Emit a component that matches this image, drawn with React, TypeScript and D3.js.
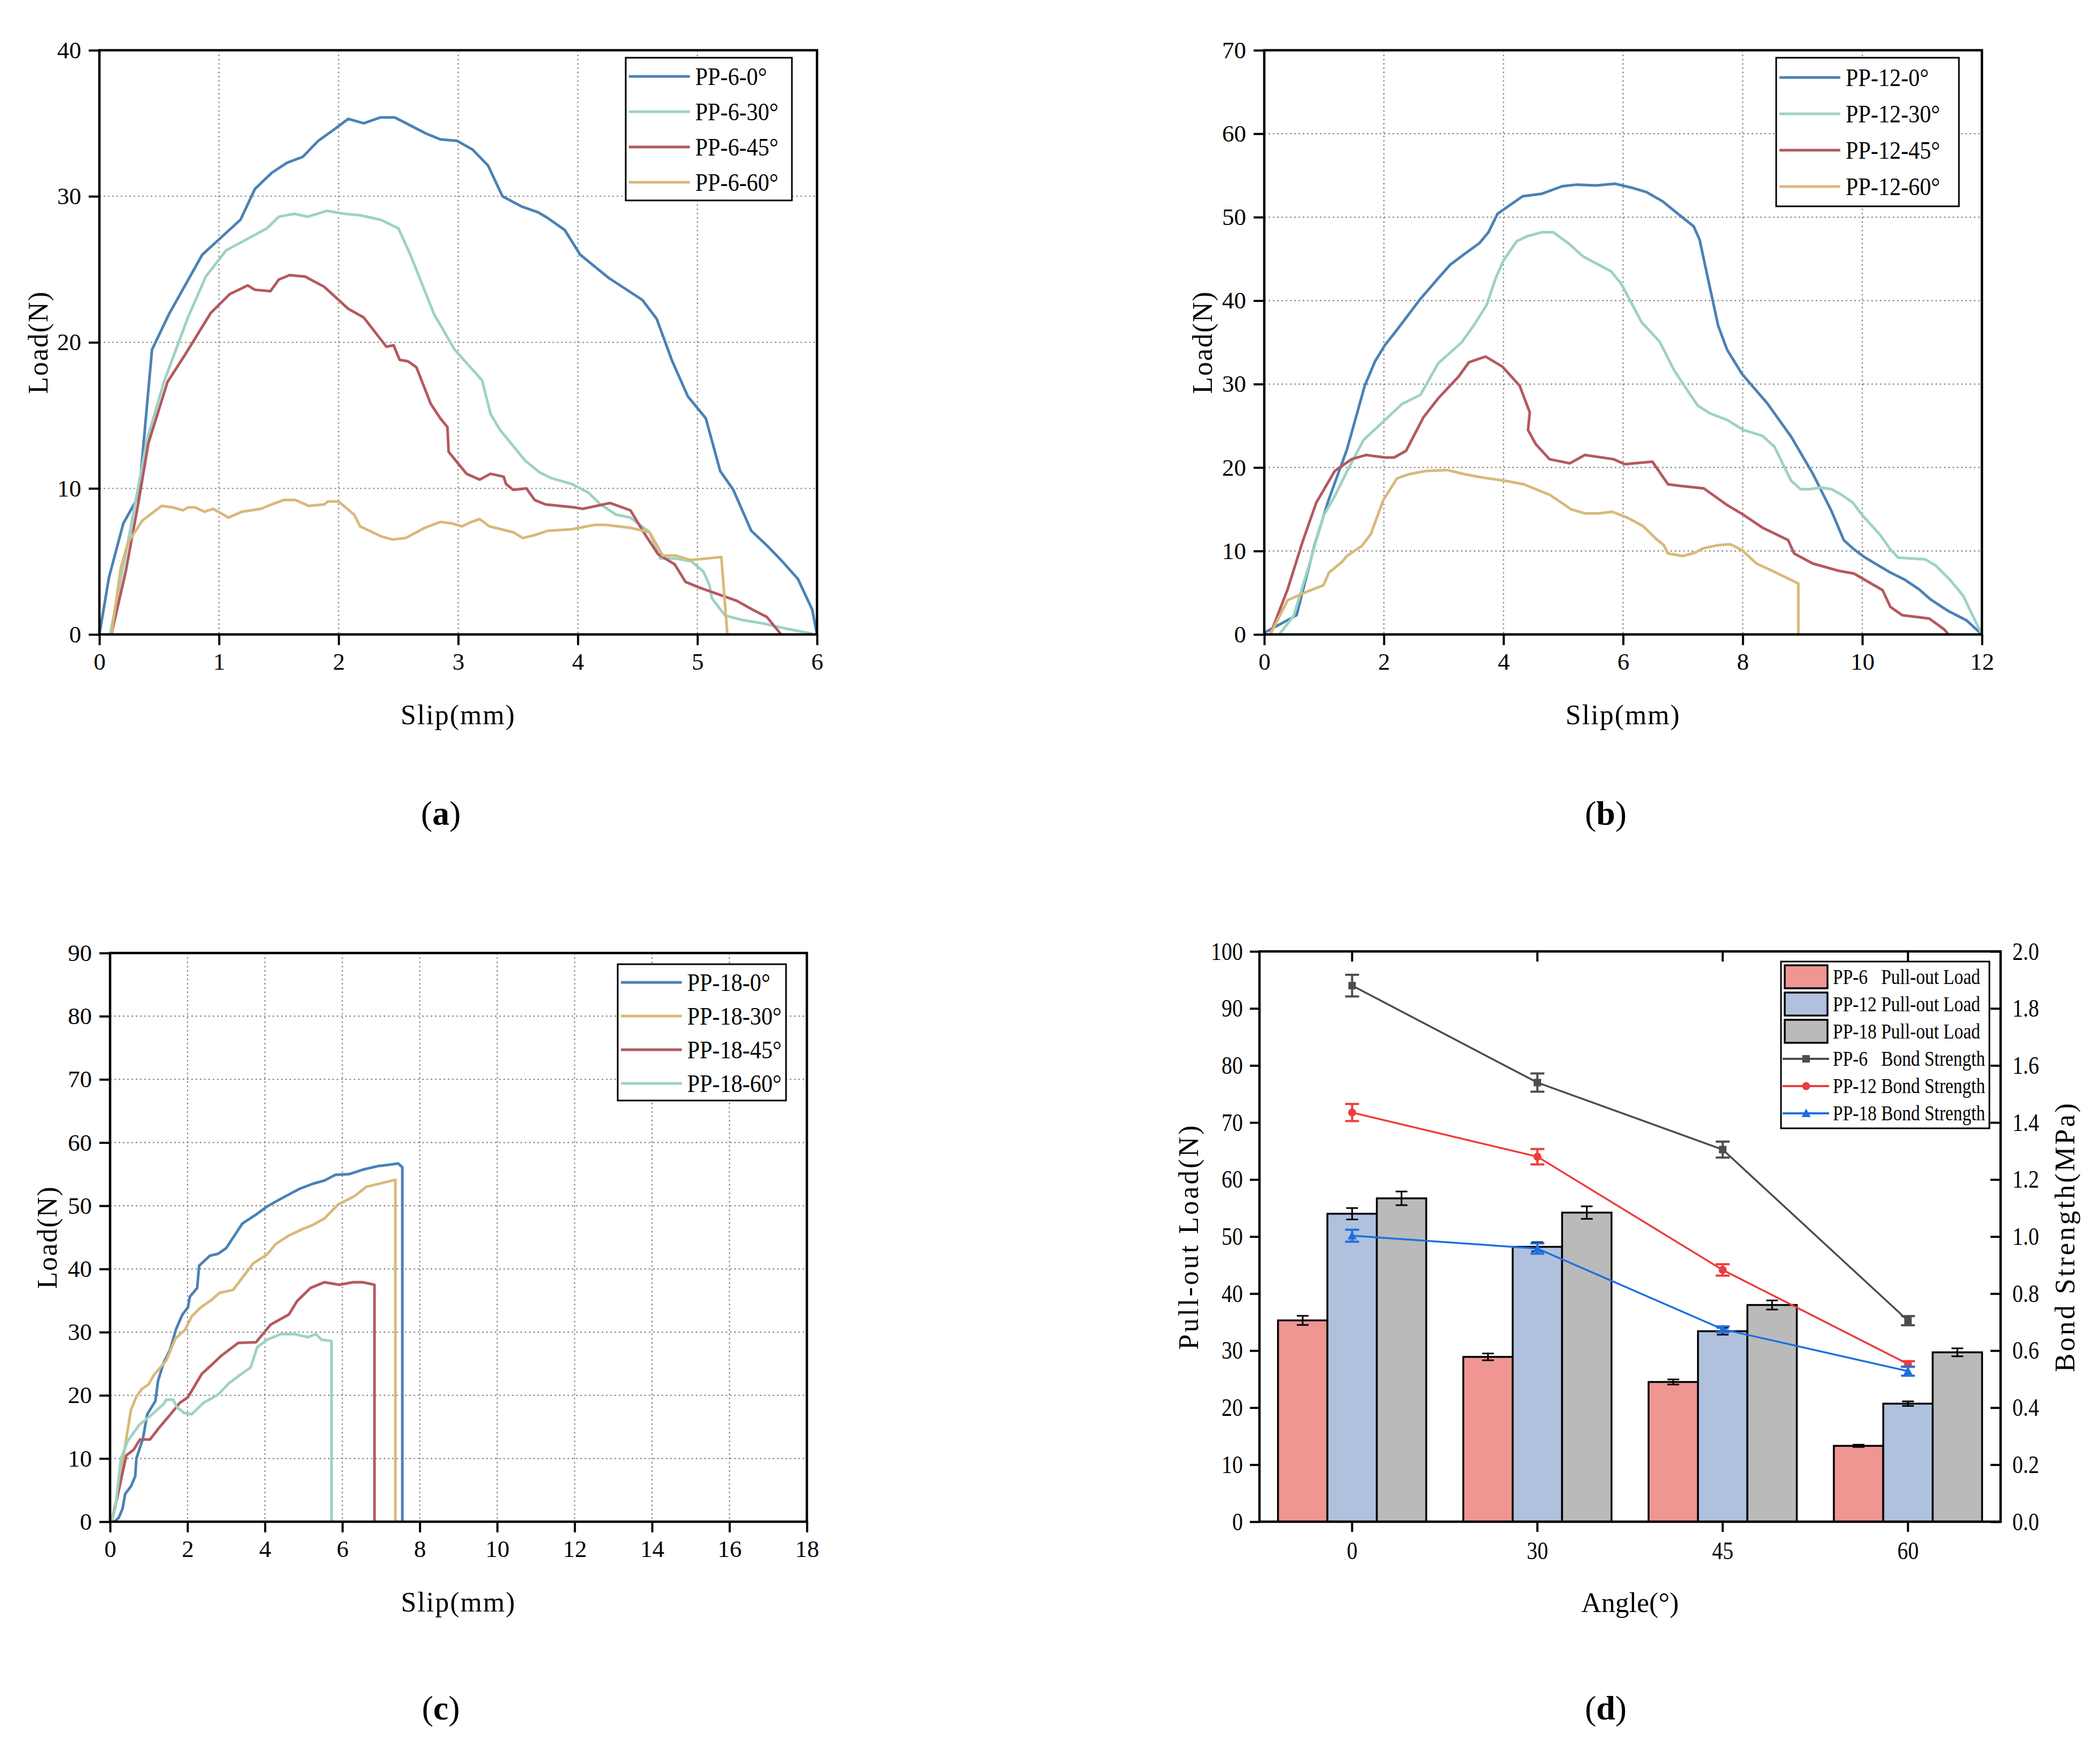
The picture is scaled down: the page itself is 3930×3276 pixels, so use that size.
import { useEffect, useRef } from 'react';
import * as d3 from 'd3';

type Pt = [number, number];

const W = 3930;
const H = 3276;
const FONT = '"Liberation Serif", "Times New Roman", serif';

const BLUE = '#4A82B4';
const TEAL = '#9DD2C3';
const RED = '#B4595F';
const TAN = '#D8B97B';

// ---- panel (a): PP-6 load-slip curves ----
const PP6_0: Pt[] = [
  [0, 0], [0.08, 3.9], [0.2, 7.6], [0.33, 9.5], [0.44, 19.5], [0.58, 21.9], [0.86, 26.0], [1.18, 28.4],
  [1.3, 30.5], [1.44, 31.6], [1.57, 32.3], [1.7, 32.7], [1.83, 33.8], [1.95, 34.5], [2.08, 35.3], [2.21, 35.0],
  [2.35, 35.4], [2.47, 35.4], [2.73, 34.3], [2.85, 33.9], [2.99, 33.8], [3.12, 33.2], [3.25, 32.1], [3.37, 30.0],
  [3.53, 29.3], [3.67, 28.9], [3.75, 28.5], [3.89, 27.7], [4.02, 26.0], [4.14, 25.2], [4.26, 24.4], [4.54, 22.9],
  [4.66, 21.6], [4.79, 18.7], [4.92, 16.3], [5.07, 14.8], [5.19, 11.2], [5.3, 9.9], [5.45, 7.1], [5.58, 6.1],
  [5.71, 5.0], [5.84, 3.8], [5.96, 1.7], [6.0, 0],
];
const PP6_30: Pt[] = [
  [0.09, 0], [0.22, 5.5], [0.4, 13.4], [0.54, 17.3], [0.74, 21.7], [0.89, 24.5], [1.06, 26.3], [1.4, 27.8],
  [1.5, 28.6], [1.63, 28.8], [1.74, 28.6], [1.9, 29.0], [2.05, 28.8], [2.18, 28.7], [2.35, 28.4], [2.5, 27.8],
  [2.6, 26.0], [2.8, 21.9], [2.97, 19.5], [3.2, 17.4], [3.27, 15.1], [3.35, 14.0], [3.56, 11.9], [3.68, 11.1],
  [3.78, 10.7], [3.95, 10.3], [4.09, 9.7], [4.19, 8.9], [4.32, 8.2], [4.44, 8.0], [4.6, 7.0], [4.69, 5.2],
  [4.82, 5.2], [4.95, 5.0], [5.05, 4.3], [5.1, 3.4], [5.12, 2.5], [5.23, 1.3], [5.37, 1.0], [5.55, 0.75],
  [5.74, 0.4], [5.96, 0.05],
];
const PP6_45: Pt[] = [
  [0.1, 0], [0.22, 4.3], [0.33, 9.2], [0.41, 13.1], [0.57, 17.3], [0.72, 19.2], [0.93, 22.0], [1.09, 23.3],
  [1.24, 23.9], [1.3, 23.6], [1.43, 23.5], [1.5, 24.3], [1.59, 24.6], [1.72, 24.5], [1.88, 23.8], [2.08, 22.3],
  [2.21, 21.7], [2.4, 19.7], [2.46, 19.8], [2.51, 18.8], [2.58, 18.7], [2.65, 18.3], [2.77, 15.8], [2.85, 14.8],
  [2.91, 14.2], [2.92, 12.5], [3.07, 11.0], [3.18, 10.6], [3.27, 11.0], [3.38, 10.8], [3.4, 10.3], [3.46, 9.9],
  [3.57, 10.0], [3.64, 9.2], [3.73, 8.9], [3.97, 8.7], [4.04, 8.6], [4.27, 9.0], [4.44, 8.5], [4.55, 7.0],
  [4.67, 5.5], [4.81, 4.8], [4.9, 3.6], [5.02, 3.2], [5.33, 2.3], [5.46, 1.7], [5.58, 1.2], [5.7, 0],
];
const PP6_60: Pt[] = [
  [0.1, 0], [0.18, 4.6], [0.24, 6.3], [0.36, 7.8], [0.52, 8.8], [0.61, 8.7], [0.7, 8.5], [0.74, 8.7],
  [0.8, 8.7], [0.88, 8.4], [0.95, 8.6], [1.08, 8.0], [1.19, 8.4], [1.35, 8.6], [1.44, 8.9], [1.54, 9.2],
  [1.64, 9.2], [1.75, 8.8], [1.88, 8.9], [1.91, 9.1], [2.0, 9.1], [2.13, 8.2], [2.18, 7.4], [2.36, 6.7],
  [2.45, 6.5], [2.56, 6.6], [2.72, 7.3], [2.85, 7.7], [2.95, 7.6], [3.03, 7.4], [3.11, 7.7], [3.18, 7.9],
  [3.26, 7.4], [3.46, 7.0], [3.54, 6.6], [3.64, 6.8], [3.75, 7.1], [3.95, 7.2], [4.14, 7.5], [4.23, 7.5],
  [4.44, 7.3], [4.6, 7.0], [4.71, 5.4], [4.82, 5.4], [4.94, 5.1], [5.2, 5.3], [5.25, 0],
];

// ---- panel (b): PP-12 load-slip curves ----
const PP12_0: Pt[] = [
  [0, 0.2], [0.54, 2.3], [0.84, 10.7], [1.07, 16.0], [1.38, 22.1], [1.68, 29.8], [1.85, 32.7], [2.02, 34.7],
  [2.22, 36.5], [2.61, 40.2], [2.91, 42.7], [3.11, 44.3], [3.35, 45.6], [3.6, 46.9], [3.75, 48.2], [3.9, 50.4],
  [4.32, 52.5], [4.64, 52.8], [4.98, 53.7], [5.23, 53.9], [5.55, 53.8], [5.87, 54.0], [6.16, 53.5], [6.39, 53.0],
  [6.66, 51.9], [6.9, 50.5], [7.18, 48.9], [7.28, 47.3], [7.42, 42.6], [7.59, 37.0], [7.74, 34.1], [7.99, 31.2],
  [8.41, 27.7], [8.81, 23.7], [9.17, 19.3], [9.49, 14.7], [9.69, 11.3], [9.86, 10.2], [10.03, 9.3], [10.26, 8.3],
  [10.45, 7.5], [10.7, 6.6], [10.95, 5.4], [11.14, 4.2], [11.44, 2.8], [11.74, 1.7], [12.0, 0],
];
const PP12_30: Pt[] = [
  [0.25, 0], [0.49, 2.2], [0.74, 8.1], [0.99, 14.2], [1.18, 16.6], [1.38, 19.5], [1.66, 23.3], [2.02, 25.7],
  [2.3, 27.6], [2.61, 28.7], [2.91, 32.5], [3.3, 35.0], [3.5, 37.0], [3.72, 39.5], [3.87, 42.7], [4.0, 44.8],
  [4.22, 47.1], [4.39, 47.7], [4.65, 48.2], [4.83, 48.2], [5.08, 46.9], [5.33, 45.3], [5.8, 43.5], [5.97, 42.0],
  [6.31, 37.4], [6.61, 35.1], [6.85, 31.7], [7.08, 29.2], [7.25, 27.4], [7.45, 26.5], [7.74, 25.7], [8.01, 24.5],
  [8.33, 23.8], [8.53, 22.5], [8.81, 18.4], [8.97, 17.4], [9.12, 17.4], [9.3, 17.6], [9.49, 17.4], [9.66, 16.7],
  [9.84, 15.8], [10.01, 14.2], [10.29, 12.0], [10.47, 10.2], [10.6, 9.2], [11.05, 9.0], [11.22, 8.3], [11.46, 6.6],
  [11.69, 4.6], [11.83, 2.5], [12.0, 0],
];
const PP12_45: Pt[] = [
  [0.1, 0], [0.39, 5.4], [0.64, 11.1], [0.87, 15.8], [1.18, 19.6], [1.46, 21.0], [1.7, 21.5], [2.02, 21.2],
  [2.17, 21.2], [2.37, 22.0], [2.66, 26.0], [2.91, 28.3], [3.25, 30.9], [3.42, 32.6], [3.7, 33.3], [3.98, 32.1],
  [4.27, 29.8], [4.44, 26.6], [4.41, 24.5], [4.54, 22.8], [4.77, 21.0], [5.11, 20.5], [5.36, 21.5], [5.84, 21.0],
  [6.03, 20.4], [6.49, 20.7], [6.75, 18.0], [6.95, 17.8], [7.35, 17.5], [7.74, 15.5], [8.02, 14.3], [8.33, 12.8],
  [8.76, 11.3], [8.86, 9.7], [9.17, 8.5], [9.62, 7.6], [9.86, 7.3], [10.34, 5.3], [10.47, 3.3], [10.67, 2.3],
  [11.12, 1.9], [11.37, 0.6], [11.44, 0],
];
const PP12_60: Pt[] = [
  [0.1, 0], [0.39, 4.1], [0.74, 5.2], [0.99, 5.9], [1.08, 7.4], [1.3, 8.7], [1.38, 9.4], [1.63, 10.6],
  [1.78, 12.0], [1.99, 16.1], [2.22, 18.7], [2.42, 19.2], [2.71, 19.6], [3.06, 19.7], [3.35, 19.2], [3.65, 18.8],
  [4.04, 18.4], [4.34, 18.0], [4.78, 16.7], [5.13, 15.0], [5.37, 14.5], [5.6, 14.5], [5.82, 14.7], [6.07, 14.0],
  [6.33, 13.0], [6.56, 11.4], [6.68, 10.7], [6.75, 9.7], [7.0, 9.4], [7.2, 9.8], [7.33, 10.3], [7.59, 10.7],
  [7.79, 10.8], [7.99, 10.1], [8.23, 8.5], [8.5, 7.6], [8.93, 6.1], [8.93, 0],
];

// ---- panel (c): PP-18 load-slip curves ----
const PP18_0: Pt[] = [
  [0.11, 0], [0.22, 0.6], [0.32, 2.0], [0.39, 4.4], [0.54, 5.6], [0.65, 7.2], [0.68, 10.0], [0.85, 13.2],
  [0.96, 17.0], [1.17, 19.1], [1.24, 22.3], [1.38, 25.1], [1.55, 27.2], [1.7, 30.4], [1.87, 32.8], [2.01, 33.9],
  [2.06, 35.6], [2.25, 37.0], [2.3, 40.5], [2.58, 42.1], [2.79, 42.4], [3.0, 43.3], [3.42, 47.2], [3.77, 48.6],
  [4.06, 49.9], [4.41, 51.1], [4.9, 52.7], [5.25, 53.5], [5.54, 54.0], [5.82, 54.9], [6.17, 55.0], [6.52, 55.7],
  [6.94, 56.3], [7.23, 56.5], [7.44, 56.7], [7.55, 56.1], [7.55, 0],
];
const PP18_30: Pt[] = [
  [0.04, 0], [0.18, 3.7], [0.39, 12.1], [0.54, 17.7], [0.68, 19.8], [0.82, 21.0], [0.99, 21.7], [1.13, 23.2],
  [1.45, 25.5], [1.69, 29.0], [1.94, 30.4], [2.11, 32.5], [2.34, 33.9], [2.62, 35.1], [2.82, 36.2], [3.18, 36.7],
  [3.7, 40.9], [4.06, 42.3], [4.27, 43.9], [4.62, 45.3], [4.97, 46.3], [5.25, 47.0], [5.54, 48.0], [5.89, 50.2],
  [6.31, 51.5], [6.62, 53.0], [7.37, 54.1], [7.37, 0],
];
const PP18_45: Pt[] = [
  [0.04, 0], [0.18, 3.7], [0.42, 10.5], [0.61, 11.4], [0.77, 13.0], [1.03, 13.0], [1.27, 14.9], [1.52, 16.7],
  [1.8, 18.8], [2.01, 19.7], [2.37, 23.4], [2.62, 24.8], [2.86, 26.2], [3.31, 28.3], [3.77, 28.4], [4.15, 31.2],
  [4.62, 32.8], [4.83, 34.9], [5.18, 37.0], [5.54, 37.9], [5.92, 37.5], [6.28, 37.9], [6.52, 37.9], [6.83, 37.5],
  [6.83, 0],
];
const PP18_60: Pt[] = [
  [0.04, 0], [0.14, 2.3], [0.28, 10.0], [0.46, 12.8], [0.75, 15.3], [1.03, 16.7], [1.38, 18.6], [1.45, 19.3],
  [1.63, 19.3], [1.73, 18.1], [1.92, 17.2], [2.11, 17.0], [2.41, 18.8], [2.79, 20.1], [3.07, 21.9], [3.35, 23.2],
  [3.63, 24.4], [3.8, 27.6], [4.06, 28.8], [4.41, 29.7], [4.76, 29.7], [5.11, 29.2], [5.32, 29.7], [5.46, 28.8],
  [5.72, 28.6], [5.72, 0],
];

// ---- panel (d): pull-out load and bond strength vs angle ----
const ANGLES = ['0', '30', '45', '60'];
const PP6_LOAD = [35.3, 28.9, 24.5, 13.3];
const PP6_LOAD_ERR = [0.8, 0.6, 0.45, 0.2];
const PP12_LOAD = [54.0, 48.2, 33.4, 20.7];
const PP12_LOAD_ERR = [1.0, 0.8, 0.6, 0.4];
const PP18_LOAD = [56.7, 54.2, 38.0, 29.7];
const PP18_LOAD_ERR = [1.2, 1.1, 0.8, 0.7];
const PP6_BOND = [1.88, 1.54, 1.305, 0.705];
const PP6_BOND_ERR = [0.038, 0.032, 0.028, 0.016];
const PP12_BOND = [1.435, 1.28, 0.883, 0.553];
const PP12_BOND_ERR = [0.03, 0.027, 0.02, 0.01];
const PP18_BOND = [1.003, 0.958, 0.675, 0.528];
const PP18_BOND_ERR = [0.021, 0.018, 0.01, 0.016];

interface Series { name: string; color: string; data: Pt[] }

interface SlipPanel {
  left: number; right: number; top: number; bottom: number;
  xMax: number; xTicks: number; yMax: number; yTicks: number;
  series: Series[];
  legend: { x: number; y: number; w: number; h: number; row0: number; rowStep: number };
  yTitleX: number;
}

type Sel = d3.Selection<SVGSVGElement, unknown, null, undefined>;

function styleAxis(g: d3.Selection<SVGGElement, unknown, null, undefined>, size = 45) {
  g.attr('font-family', FONT).attr('font-size', size);
  g.select('.domain').remove();
  g.selectAll('.tick line').attr('stroke', '#000').attr('stroke-width', 4);
  g.selectAll('.tick text').attr('fill', '#000');
}

// squeeze text horizontally so it keeps its height but looks like the narrow original face
function condense(sel: d3.Selection<SVGTextElement, unknown, null, undefined>, factor: number) {
  sel.each(function () {
    const n = this.getComputedTextLength();
    if (n > 0) d3.select(this).attr('textLength', n * factor).attr('lengthAdjust', 'spacingAndGlyphs');
  });
}

function panelLabel(svg: Sel, x: number, y: number, letter: string) {
  const t = svg.append('text')
    .attr('x', x).attr('y', y)
    .attr('text-anchor', 'middle')
    .attr('font-family', FONT)
    .attr('font-size', 64);
  t.append('tspan').text('(');
  t.append('tspan').attr('font-weight', 'bold').text(letter);
  t.append('tspan').text(')');
}

function drawSlipPanel(svg: Sel, p: SlipPanel) {
  const x = d3.scaleLinear().domain([0, p.xMax]).range([p.left, p.right]);
  const y = d3.scaleLinear().domain([0, p.yMax]).range([p.bottom, p.top]);
  const g = svg.append('g');

  // dotted grid
  const grid = g.append('g').attr('stroke', '#8a8a8a').attr('stroke-width', 2.2).attr('stroke-dasharray', '3 5');
  x.ticks(p.xTicks).filter((v) => v > 0 && v < p.xMax).forEach((v) => {
    grid.append('line').attr('x1', x(v)).attr('x2', x(v)).attr('y1', p.top).attr('y2', p.bottom);
  });
  y.ticks(p.yTicks).filter((v) => v > 0 && v < p.yMax).forEach((v) => {
    grid.append('line').attr('x1', p.left).attr('x2', p.right).attr('y1', y(v)).attr('y2', y(v));
  });

  const line = d3.line<Pt>().x((d) => x(d[0])).y((d) => y(d[1]));
  p.series.forEach((s) => {
    g.append('path')
      .attr('d', line(s.data) ?? '')
      .attr('fill', 'none')
      .attr('stroke', s.color)
      .attr('stroke-width', 5)
      .attr('stroke-linejoin', 'round');
  });

  // frame
  g.append('rect')
    .attr('x', p.left).attr('y', p.top)
    .attr('width', p.right - p.left).attr('height', p.bottom - p.top)
    .attr('fill', 'none').attr('stroke', '#000').attr('stroke-width', 4.5);

  const ax = g.append('g').attr('transform', `translate(0,${p.bottom})`)
    .call(d3.axisBottom(x).ticks(p.xTicks).tickSize(20).tickPadding(14).tickFormat(d3.format('d')));
  styleAxis(ax);
  const ay = g.append('g').attr('transform', `translate(${p.left},0)`)
    .call(d3.axisLeft(y).ticks(p.yTicks).tickSize(20).tickPadding(14).tickFormat(d3.format('d')));
  styleAxis(ay);

  // legend
  const L = p.legend;
  const lg = g.append('g');
  lg.append('rect')
    .attr('x', L.x).attr('y', L.y).attr('width', L.w).attr('height', L.h)
    .attr('fill', '#fff').attr('stroke', '#000').attr('stroke-width', 3);
  p.series.forEach((s, i) => {
    const cy = L.y + L.row0 + i * L.rowStep;
    lg.append('line')
      .attr('x1', L.x + 6).attr('x2', L.x + 120).attr('y1', cy).attr('y2', cy)
      .attr('stroke', s.color).attr('stroke-width', 5);
    lg.append('text')
      .attr('x', L.x + 130).attr('y', cy).attr('dy', '0.35em')
      .attr('font-family', FONT).attr('font-size', 47)
      .text(s.name)
      .call(condense, 0.9);
  });

  // titles
  svg.append('text')
    .attr('x', (p.left + p.right) / 2).attr('y', p.bottom + 168)
    .attr('text-anchor', 'middle').attr('font-family', FONT).attr('font-size', 52)
    .attr('letter-spacing', 2)
    .text('Slip(mm)');
  svg.append('text')
    .attr('transform', `translate(${p.yTitleX},${(p.top + p.bottom) / 2}) rotate(-90)`)
    .attr('text-anchor', 'middle').attr('dy', '0.35em')
    .attr('font-family', FONT).attr('font-size', 52).attr('letter-spacing', 2)
    .text('Load(N)');
}

function drawBarPanel(svg: Sel) {
  const left = 2357;
  const right = 3744;
  const top = 1780;
  const bottom = 2847;

  const x = d3.scaleBand<string>().domain(ANGLES).range([left, right]).paddingInner(0.2).paddingOuter(0.1);
  const groups = ['PP-6', 'PP-12', 'PP-18'];
  const xs = d3.scaleBand<string>().domain(groups).range([0, x.bandwidth()]);
  const y = d3.scaleLinear().domain([0, 100]).range([bottom, top]);
  const y2 = d3.scaleLinear().domain([0, 2]).range([bottom, top]);

  const bars = [
    { name: 'PP-6', label: 'PP-6   Pull-out Load', color: '#EF9592', v: PP6_LOAD, e: PP6_LOAD_ERR },
    { name: 'PP-12', label: 'PP-12 Pull-out Load', color: '#B0C1DE', v: PP12_LOAD, e: PP12_LOAD_ERR },
    { name: 'PP-18', label: 'PP-18 Pull-out Load', color: '#BABABA', v: PP18_LOAD, e: PP18_LOAD_ERR },
  ];
  const lines = [
    { label: 'PP-6   Bond Strength', color: '#4D4D4D', v: PP6_BOND, e: PP6_BOND_ERR, marker: 'square' },
    { label: 'PP-12 Bond Strength', color: '#EE3B3B', v: PP12_BOND, e: PP12_BOND_ERR, marker: 'circle' },
    { label: 'PP-18 Bond Strength', color: '#1C6FE0', v: PP18_BOND, e: PP18_BOND_ERR, marker: 'triangle' },
  ];

  const g = svg.append('g');

  bars.forEach((b) => {
    ANGLES.forEach((a, i) => {
      const bx = (x(a) ?? 0) + (xs(b.name) ?? 0);
      g.append('rect')
        .attr('x', bx).attr('y', y(b.v[i]))
        .attr('width', xs.bandwidth()).attr('height', y(0) - y(b.v[i]))
        .attr('fill', b.color).attr('stroke', '#000').attr('stroke-width', 3.5);
    });
  });
  bars.forEach((b) => {
    ANGLES.forEach((a, i) => {
      const cx = (x(a) ?? 0) + (xs(b.name) ?? 0) + xs.bandwidth() / 2;
      const y1 = y(b.v[i] + b.e[i]);
      const y0 = y(b.v[i] - b.e[i]);
      const eg = g.append('g').attr('stroke', '#000').attr('stroke-width', 3);
      eg.append('line').attr('x1', cx).attr('x2', cx).attr('y1', y1).attr('y2', y0);
      eg.append('line').attr('x1', cx - 11).attr('x2', cx + 11).attr('y1', y1).attr('y2', y1);
      eg.append('line').attr('x1', cx - 11).attr('x2', cx + 11).attr('y1', y0).attr('y2', y0);
    });
  });

  const cxOf = (a: string) => (x(a) ?? 0) + x.bandwidth() / 2;
  const drawMarker = (sel: d3.Selection<SVGGElement, unknown, null, undefined>, kind: string, cx: number, cy: number, color: string) => {
    if (kind === 'square') {
      sel.append('rect').attr('x', cx - 7).attr('y', cy - 7).attr('width', 14).attr('height', 14).attr('fill', color);
    } else if (kind === 'circle') {
      sel.append('circle').attr('cx', cx).attr('cy', cy).attr('r', 7.5).attr('fill', color);
    } else {
      sel.append('path')
        .attr('d', `M${cx},${cy - 9} L${cx + 8.5},${cy + 7} L${cx - 8.5},${cy + 7} Z`)
        .attr('fill', color);
    }
  };

  lines.forEach((l) => {
    const pts: Pt[] = ANGLES.map((a, i) => [cxOf(a), y2(l.v[i])]);
    g.append('path')
      .attr('d', d3.line()(pts) ?? '')
      .attr('fill', 'none').attr('stroke', l.color).attr('stroke-width', 3.5);
    ANGLES.forEach((a, i) => {
      const cx = cxOf(a);
      const y1 = y2(l.v[i] + l.e[i]);
      const y0 = y2(l.v[i] - l.e[i]);
      const eg = g.append('g').attr('stroke', l.color).attr('stroke-width', 4);
      eg.append('line').attr('x1', cx).attr('x2', cx).attr('y1', y1).attr('y2', y0);
      eg.append('line').attr('x1', cx - 13).attr('x2', cx + 13).attr('y1', y1).attr('y2', y1);
      eg.append('line').attr('x1', cx - 13).attr('x2', cx + 13).attr('y1', y0).attr('y2', y0);
      drawMarker(g, l.marker, cx, y2(l.v[i]), l.color);
    });
  });

  // frame
  g.append('rect')
    .attr('x', left).attr('y', top).attr('width', right - left).attr('height', bottom - top)
    .attr('fill', 'none').attr('stroke', '#000').attr('stroke-width', 4.5);

  const ax = g.append('g').attr('transform', `translate(0,${bottom})`)
    .call(d3.axisBottom(x).tickSize(19).tickPadding(18));
  styleAxis(ax, 47);
  ax.selectAll<SVGTextElement, unknown>('.tick text').call(condense, 0.85);
  const axTop = g.append('g').attr('transform', `translate(0,${top})`)
    .call(d3.axisTop(x).tickSize(-19).tickFormat(() => ''));
  styleAxis(axTop);
  const ayl = g.append('g').attr('transform', `translate(${left},0)`)
    .call(d3.axisLeft(y).ticks(10).tickSize(18).tickPadding(13));
  styleAxis(ayl, 47);
  ayl.selectAll<SVGTextElement, unknown>('.tick text').call(condense, 0.85);
  const ayr = g.append('g').attr('transform', `translate(${right},0)`)
    .call(d3.axisRight(y2).ticks(10).tickSize(-19).tickPadding(22).tickFormat(d3.format('.1f')));
  styleAxis(ayr, 47);
  ayr.selectAll<SVGTextElement, unknown>('.tick text').call(condense, 0.85);

  // legend
  const lx = 3333;
  const ly = 1799;
  const lg = g.append('g');
  lg.append('rect').attr('x', lx).attr('y', ly).attr('width', 390).attr('height', 312)
    .attr('fill', '#fff').attr('stroke', '#000').attr('stroke-width', 3);
  const rowY = (i: number) => ly + 28 + i * 51;
  bars.forEach((b, i) => {
    lg.append('rect').attr('x', lx + 7).attr('y', rowY(i) - 21).attr('width', 80).attr('height', 43)
      .attr('fill', b.color).attr('stroke', '#000').attr('stroke-width', 3.5);
  });
  lines.forEach((l, j) => {
    const cy = rowY(j + 3) + 1;
    lg.append('line').attr('x1', lx + 3).attr('x2', lx + 90).attr('y1', cy).attr('y2', cy)
      .attr('stroke', l.color).attr('stroke-width', 4);
    drawMarker(lg, l.marker, lx + 47, cy, l.color);
  });
  [...bars, ...lines].forEach((s, i) => {
    lg.append('text')
      .attr('x', lx + 97).attr('y', rowY(i)).attr('dy', '0.35em')
      .attr('font-family', FONT).attr('font-size', 39)
      .style('white-space', 'pre')
      .text(s.label)
      .call(condense, 0.86);
  });

  // titles
  svg.append('text')
    .attr('x', (left + right) / 2).attr('y', 3016)
    .attr('text-anchor', 'middle').attr('font-family', FONT).attr('font-size', 52)
    .text('Angle(°)');
  svg.append('text')
    .attr('transform', `translate(2224,${(top + bottom) / 2}) rotate(-90)`)
    .attr('text-anchor', 'middle').attr('dy', '0.35em')
    .attr('font-family', FONT).attr('font-size', 52).attr('letter-spacing', 4)
    .text('Pull-out Load(N)');
  svg.append('text')
    .attr('transform', `translate(3864,${(top + bottom) / 2}) rotate(-90)`)
    .attr('text-anchor', 'middle').attr('dy', '0.35em')
    .attr('font-family', FONT).attr('font-size', 52).attr('letter-spacing', 4)
    .text('Bond Strength(MPa)');
}

export default function App() {
  const svgRef = useRef<SVGSVGElement>(null);

  useEffect(() => {
    document.body.style.margin = '0';
    if (!svgRef.current) return;
    const svg = d3.select(svgRef.current);
    svg.selectAll('*').remove();

    svg.append('rect').attr('width', W).attr('height', H).attr('fill', '#fff');

    drawSlipPanel(svg, {
      left: 186, right: 1529, top: 94, bottom: 1187,
      xMax: 6, xTicks: 6, yMax: 40, yTicks: 4,
      series: [
        { name: 'PP-6-0°', color: BLUE, data: PP6_0 },
        { name: 'PP-6-30°', color: TEAL, data: PP6_30 },
        { name: 'PP-6-45°', color: RED, data: PP6_45 },
        { name: 'PP-6-60°', color: TAN, data: PP6_60 },
      ],
      legend: { x: 1171, y: 108, w: 311, h: 267, row0: 35, rowStep: 66 },
      yTitleX: 71,
    });
    drawSlipPanel(svg, {
      left: 2366, right: 3709, top: 94, bottom: 1187,
      xMax: 12, xTicks: 6, yMax: 70, yTicks: 7,
      series: [
        { name: 'PP-12-0°', color: BLUE, data: PP12_0 },
        { name: 'PP-12-30°', color: TEAL, data: PP12_30 },
        { name: 'PP-12-45°', color: RED, data: PP12_45 },
        { name: 'PP-12-60°', color: TAN, data: PP12_60 },
      ],
      legend: { x: 3324, y: 108, w: 342, h: 278, row0: 37, rowStep: 68 },
      yTitleX: 2250,
    });
    drawSlipPanel(svg, {
      left: 206, right: 1510, top: 1783, bottom: 2847,
      xMax: 18, xTicks: 9, yMax: 90, yTicks: 9,
      series: [
        { name: 'PP-18-0°', color: BLUE, data: PP18_0 },
        { name: 'PP-18-30°', color: TAN, data: PP18_30 },
        { name: 'PP-18-45°', color: RED, data: PP18_45 },
        { name: 'PP-18-60°', color: TEAL, data: PP18_60 },
      ],
      legend: { x: 1156, y: 1804, w: 315, h: 255, row0: 34, rowStep: 63 },
      yTitleX: 88,
    });
    drawBarPanel(svg);

    panelLabel(svg, 825, 1543, 'a');
    panelLabel(svg, 3005, 1543, 'b');
    panelLabel(svg, 825, 3217, 'c');
    panelLabel(svg, 3005, 3217, 'd');
  }, []);

  return <svg ref={svgRef} width={W} height={H} style={{ display: 'block' }} />;
}
